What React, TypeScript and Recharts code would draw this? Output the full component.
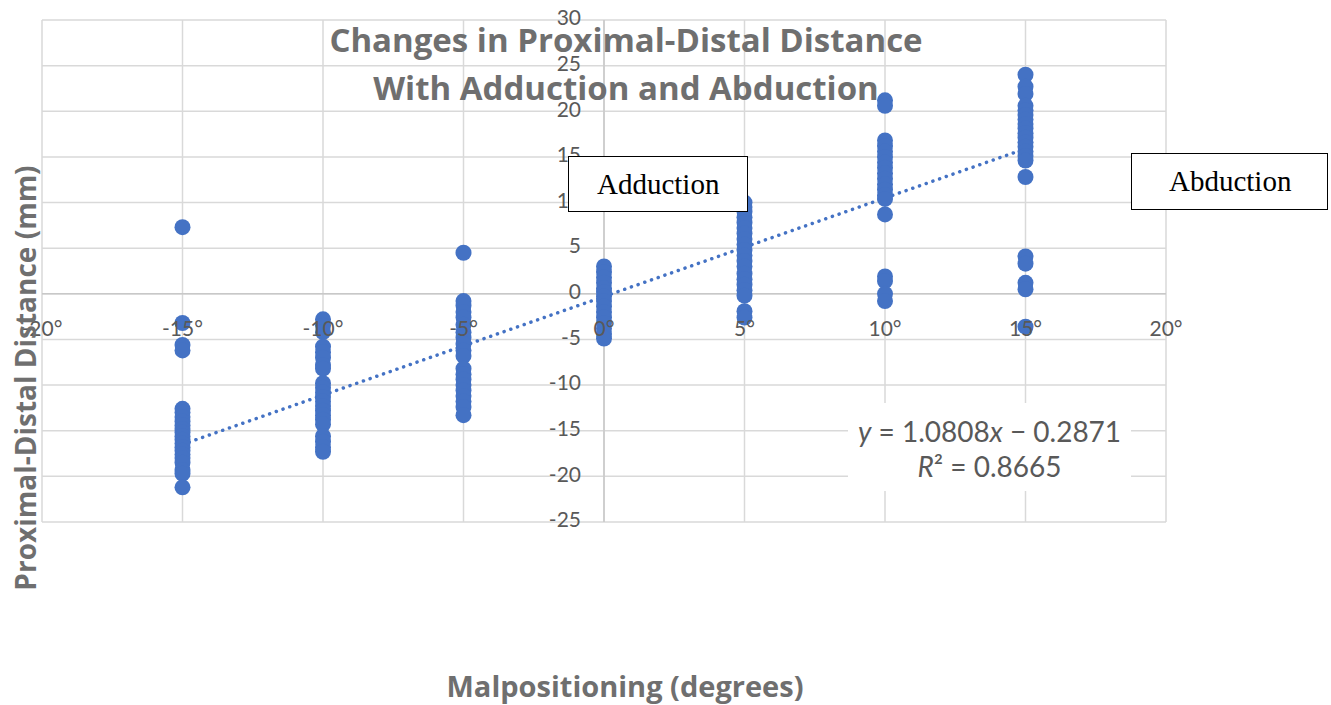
import React from "react"
import {
  ScatterChart,
  Scatter,
  XAxis,
  YAxis,
  CartesianGrid,
  ReferenceLine,
} from "recharts"

// malpositioning angle for each group of measurements
const angles = [-15, -10, -5, 0, 5, 10, 15]

// proximal-distal distance (mm) read for each angle
const distM15 = [7.3, -3.2, -5.6, -6.2, -12.6, -13.0, -13.5, -14.0, -14.4, -14.8, -15.2, -15.6, -16.0, -16.4, -16.8, -17.2, -17.6, -18.0, -18.5, -19.3, -19.7, -21.2]
const distM10 = [-2.8, -3.5, -4.2, -5.8, -6.4, -7.0, -7.8, -8.2, -9.8, -10.3, -10.8, -11.3, -11.8, -12.3, -12.8, -13.3, -13.8, -14.3, -15.6, -16.2, -16.8, -17.3]
const distM5 = [4.5, -0.8, -1.3, -2.0, -2.6, -3.4, -4.2, -4.8, -5.5, -6.2, -6.8, -8.2, -8.8, -9.4, -10.0, -10.6, -11.2, -11.8, -12.4, -13.3]
const dist0 = [3.0, 2.4, 1.8, 1.2, 0.6, 0.2, -0.3, -0.8, -1.4, -2.0, -2.6, -3.2, -3.8, -4.4, -4.9]
const distP5 = [10.0, 9.5, 9.0, 8.4, 7.8, 7.2, 6.6, 6.0, 5.4, 4.8, 4.2, 3.6, 3.0, 2.2, 1.6, 1.0, 0.4, -0.2, -1.9, -2.6]
const distP10 = [21.2, 20.6, 16.8, 16.2, 15.6, 15.0, 14.4, 13.8, 13.2, 12.6, 12.0, 11.4, 10.8, 10.4, 8.7, 1.9, 1.4, 0.0, -0.8]
const distP15 = [24.0, 22.7, 21.9, 20.6, 20.1, 19.6, 19.1, 18.6, 18.1, 17.6, 17.1, 16.6, 16.1, 15.6, 15.1, 14.6, 12.8, 4.1, 3.3, 1.2, 0.5, -3.6]

const groups = [distM15, distM10, distM5, dist0, distP5, distP10, distP15]

// linear trendline ends (y = 1.0808x - 0.2871)
const trendX = [-15, 15]
const trendY = [-16.5, 15.9]

const xTicks = [-20, -15, -10, -5, 0, 5, 10, 15, 20]
const yTicks = [30, 25, 20, 15, 10, 5, 0, -5, -10, -15, -20, -25]

const points = angles.flatMap((a, i) => groups[i].map((d) => ({ x: a, y: d })))

const W = 1331
const H = 705
const margin = { top: 20, left: 41, right: 165, bottom: 182 }
const plotH = H - margin.top - margin.bottom - 1
const plotW = W - margin.left - margin.right - 1
// where the axes cross (x = 0, y = 0)
const zeroY = margin.top + (30 / 55) * plotH
const zeroX = margin.left + 1 + plotW / 2

const blue = "#4472C4"
const gray = "#595959"
const font = "Lato, 'Open Sans', sans-serif"
const titleFont = "'Open Sans', Lato, sans-serif"

const XTick = (props: any) => {
  const { x, payload } = props
  return (
    <text x={x} y={zeroY + 37} textAnchor="middle" dominantBaseline="middle" fill={gray} fontSize={21} fontFamily={font}>
      {`${payload.value}°`}
    </text>
  )
}

const YTick = (props: any) => {
  const { y, payload } = props
  return (
    <text x={zeroX - 23} y={y} textAnchor="end" dominantBaseline="middle" fill={gray} fontSize={21} fontFamily={font}>
      {payload.value}
    </text>
  )
}

const Dot = (props: any) => <circle cx={props.cx} cy={props.cy} r={8} fill={blue} />

const boxStyle: React.CSSProperties = {
  position: "absolute",
  border: "1px solid #000",
  background: "#fff",
  fontFamily: "'Liberation Serif', 'Times New Roman', serif",
  fontSize: 29,
  color: "#000",
  boxSizing: "border-box",
  display: "flex",
  alignItems: "center",
}

export default function App() {
  return (
    <div style={{ position: "absolute", left: 0, top: 0, width: W, height: H, background: "#fff", overflow: "hidden" }}>
      <ScatterChart width={W} height={H} margin={margin}>
        <CartesianGrid stroke="#d9d9d9" strokeWidth={1.5} />
        <XAxis
          type="number"
          dataKey="x"
          domain={[-20, 20]}
          ticks={xTicks}
          interval={0}
          axisLine={false}
          tickLine={false}
          height={1}
          tick={<XTick />}
        />
        <YAxis
          type="number"
          dataKey="y"
          domain={[-25, 30]}
          ticks={yTicks}
          interval={0}
          axisLine={false}
          tickLine={false}
          width={1}
          tick={<YTick />}
        />
        <ReferenceLine x={0} stroke="#c8c8c8" strokeWidth={1.5} />
        <ReferenceLine y={0} stroke="#c8c8c8" strokeWidth={1.5} />
        <Scatter data={points} fill={blue} shape={<Dot />} isAnimationActive={false} />
        <ReferenceLine
          segment={[
            { x: trendX[0], y: trendY[0] },
            { x: trendX[1], y: trendY[1] },
          ]}
          stroke={blue}
          strokeWidth={3.5}
          strokeDasharray="0.1 7"
          strokeLinecap="round"
        />
      </ScatterChart>

      <div style={{ position: "absolute", left: 0, width: 1252, top: 16, textAlign: "center", fontFamily: titleFont, fontWeight: 700, fontSize: 33, color: "#6f6f6f", lineHeight: "48px" }}>
        Changes in Proximal-Distal Distance
        <br />
        With Adduction and Abduction
      </div>

      <div style={{ position: "absolute", left: 25, top: 378, transform: "translate(-50%, -50%) rotate(-90deg)", whiteSpace: "nowrap", fontFamily: titleFont, fontWeight: 700, fontSize: 28, color: "#6f6f6f" }}>
        Proximal-Distal Distance (mm)
      </div>

      <div style={{ position: "absolute", left: 625, top: 686, transform: "translate(-50%, -50%)", whiteSpace: "nowrap", fontFamily: titleFont, fontWeight: 700, fontSize: 29, color: "#6f6f6f", lineHeight: "34px" }}>
        Malpositioning (degrees)
      </div>

      <div style={{ ...boxStyle, left: 568, top: 156, width: 180, height: 56, paddingLeft: 28 }}>Adduction</div>
      <div style={{ ...boxStyle, left: 1131, top: 153, width: 197, height: 57, paddingLeft: 37 }}>Abduction</div>

      <div style={{ position: "absolute", left: 848, top: 403, width: 283, height: 88, background: "#fff", textAlign: "center", fontFamily: font, fontSize: 28, color: gray, lineHeight: "35px", paddingTop: 11, boxSizing: "border-box" }}>
        <i>y</i> = 1.0808<i>x</i> − 0.2871
        <br />
        <i>R</i>² = 0.8665
      </div>
    </div>
  )
}
